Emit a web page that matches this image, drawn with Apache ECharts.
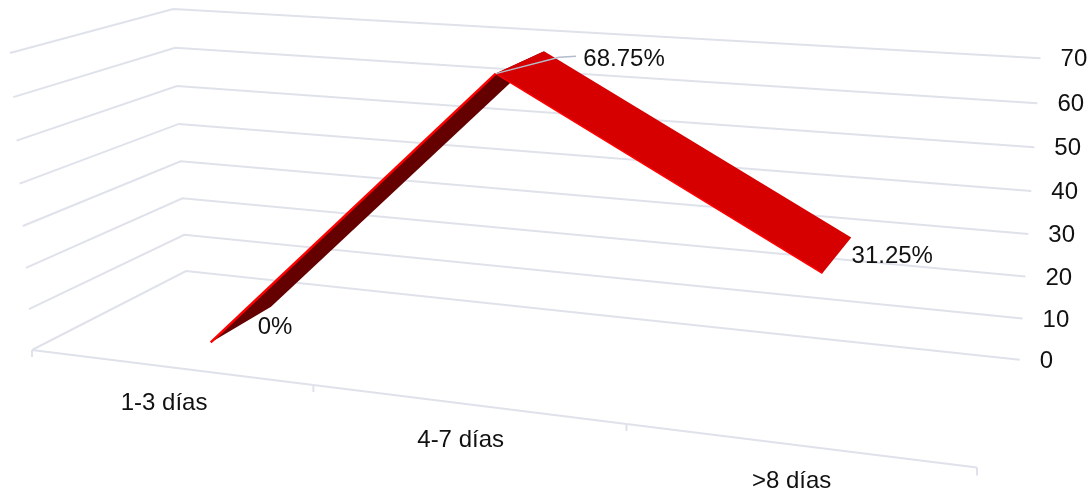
<!DOCTYPE html>
<html>
<head>
<meta charset="utf-8">
<style>
html, body { margin: 0; padding: 0; background: #fff; }
#chart { width: 1090px; height: 494px; }
</style>
<script src="https://cdn.jsdelivr.net/npm/echarts@6/dist/echarts.min.js"></script>
</head>
<body>
<div id="chart"></div>
<script>
var categories = ['1-3 días', '4-7 días', '>8 días'];
var values = [0, 68.75, 31.25];
var valueLabels = ['0%', '68.75%', '31.25%'];
var yTicks = [0, 10, 20, 30, 40, 50, 60, 70];

var FONT = '"Liberation Sans", Arial, sans-serif';
var GRID_COLOR = '#dfe2ea';
var RIBBON_NEAR = 0.27, RIBBON_FAR = 0.7;

// pinhole style projection of the box: u along categories, d into the depth, h up the value axis
function project(u, d, h) {
    var w = 1 - 0.152 * u + 0.1413 * d - 0.045 * h;
    return [
        (32 + 796.5 * u + 180.3 * d - 22.45 * h) / w - 4 * u * h,
        (350 + 45.2 * u - 40.7 * d - 299.4 * h) / w + 1.5 * u * (1 - h)
    ];
}

// from hidden cartesian axes to box units
function boxUnits(params, api, cat, val) {
    var cs = params.coordSys;
    var c = api.coord([cat, val]);
    return [(c[0] - cs.x) / cs.width, 1 - (c[1] - cs.y) / cs.height];
}

function textEl(x, y, text, align) {
    return {
        type: 'text',
        style: { x: x, y: y, text: text, fill: '#111', font: '24px ' + FONT, align: align, verticalAlign: 'middle' }
    };
}

function polyline(points, color, width) {
    return { type: 'polyline', shape: { points: points }, style: { stroke: color, fill: null, lineWidth: width } };
}

function renderWall(params, api) {
    var h = boxUnits(params, api, 0, api.value(0))[1];
    var end = project(1, 1, h);
    return {
        type: 'group',
        children: [
            polyline([project(0, 0, h), project(0, 1, h), end], GRID_COLOR, 2),
            textEl(end[0] + 20, end[1] + 1.5, String(api.value(0)), 'left')
        ]
    };
}

function renderFront(params, api) {
    var i = api.value(0);
    var u = boxUnits(params, api, i, 0)[0];
    var du = 0.5 / categories.length;
    var left = project(u - du, 0, 0), right = project(u + du, 0, 0), mid = project(u, 0, 0);
    var kids = [
        polyline([left, right], GRID_COLOR, 2),
        polyline([left, [left[0], left[1] + 7]], GRID_COLOR, 2),
        textEl(mid[0] - 5, mid[1] + 36.5, categories[i], 'center')
    ];
    if (i === categories.length - 1) {
        kids.push(polyline([right, [right[0], right[1] + 8]], GRID_COLOR, 2));
    }
    return { type: 'group', children: kids };
}

function renderRibbon(params, api) {
    var i = api.value(0);
    if (i === 0) return { type: 'group', children: [] };
    var a = boxUnits(params, api, i - 1, values[i - 1]);
    var b = boxUnits(params, api, i, values[i]);
    var rising = values[i] > values[i - 1];
    var an = project(a[0], RIBBON_NEAR, a[1]), af = project(a[0], RIBBON_FAR, a[1]);
    var bn = project(b[0], RIBBON_NEAR, b[1]), bf = project(b[0], RIBBON_FAR, b[1]);
    return {
        type: 'group',
        children: [
            { type: 'polygon', shape: { points: [an, af, bf, bn] }, style: { fill: rising ? '#640000' : '#d60000' } },
            polyline([an, bn], '#ff0000', rising ? 2.5 : 1.5)
        ]
    };
}

function renderLabel(params, api) {
    var i = api.value(0);
    var p = boxUnits(params, api, i, values[i]);
    var near = project(p[0], RIBBON_NEAR, p[1]), far = project(p[0], RIBBON_FAR, p[1]);
    var kids = [];
    if (i === 0) {
        kids.push(textEl(far[0] + 4, far[1] + 20.5, valueLabels[i], 'center'));
    } else if (i === 1) {
        kids.push(polyline([near, [far[0] + 15, far[1] + 6], [far[0] + 32, far[1] + 5]], '#b4bccb', 1.5));
        kids.push(textEl(far[0] + 80, far[1] + 8, valueLabels[i], 'center'));
    } else {
        kids.push(textEl(far[0] + 41, far[1] + 19, valueLabels[i], 'center'));
    }
    return { type: 'group', children: kids };
}

var indexData = categories.map(function (c, i) { return [i]; });

var myChart = echarts.init(document.getElementById('chart'));
var option = {
    animation: false,
    backgroundColor: '#fff',
    grid: { left: 0, right: 0, top: 0, bottom: 0 },
    xAxis: { type: 'category', data: categories, show: false },
    yAxis: { type: 'value', min: 0, max: 70, interval: 10, show: false },
    series: [
        { type: 'custom', renderItem: renderWall, data: yTicks.map(function (v) { return [v]; }), encode: { x: -1, y: 0 }, z: 1, silent: true },
        { type: 'custom', renderItem: renderFront, data: indexData, encode: { x: 0, y: -1 }, z: 1, silent: true },
        { type: 'custom', renderItem: renderRibbon, data: indexData, encode: { x: 0, y: -1 }, z: 2, silent: true },
        { type: 'custom', renderItem: renderLabel, data: indexData, encode: { x: 0, y: -1 }, z: 3, silent: true }
    ]
};
myChart.setOption(option);
</script>
</body>
</html>
